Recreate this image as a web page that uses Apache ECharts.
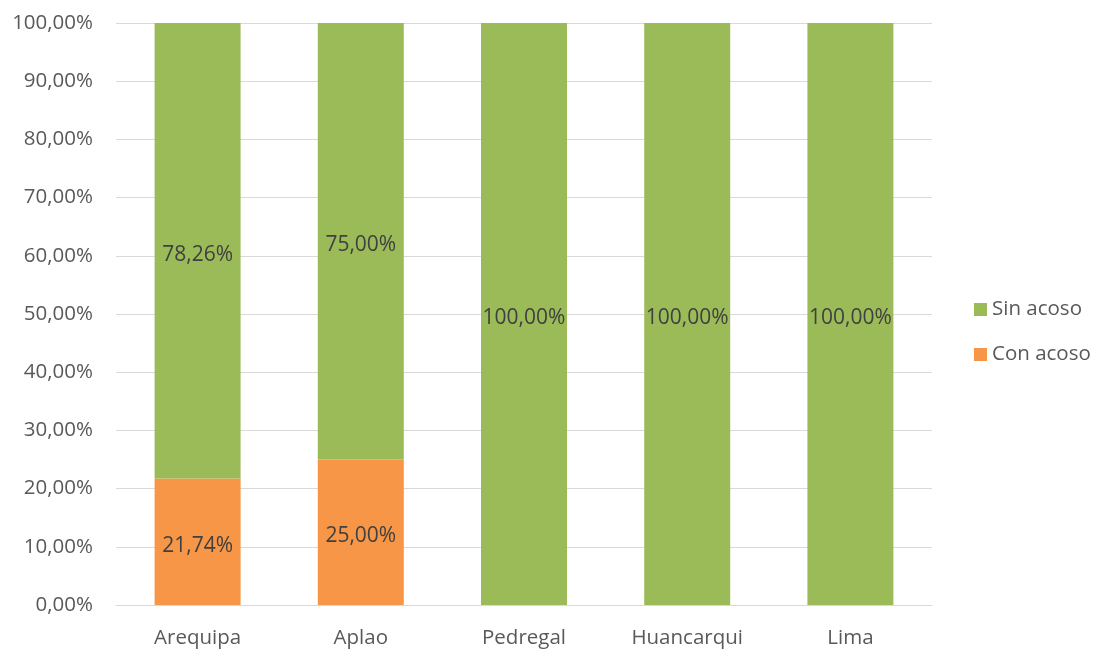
<!DOCTYPE html>
<html>
<head>
<meta charset="utf-8">
<script src="https://cdn.jsdelivr.net/npm/echarts@6/dist/echarts.min.js"></script>
<style>html,body{margin:0;padding:0;background:#fff}#c{width:1099px;height:651px}</style>
</head>
<body>
<div id="c"></div>
<script>
const categories = ['Arequipa', 'Aplao', 'Pedregal', 'Huancarqui', 'Lima'];
const conAcoso = [21.74, 25.00, 0, 0, 0];
const sinAcoso = [78.26, 75.00, 100, 100, 100];
const seriesNames = ['Sin acoso', 'Con acoso'];

const fmt = v => v.toFixed(2).replace('.', ',') + '%';
const font = '"Open Sans", "Liberation Sans", sans-serif';

const chart = echarts.init(document.getElementById('c'));
chart.setOption({
  animation: false,
  textStyle: { fontFamily: font },
  grid: { left: 116, right: 167, top: 23, bottom: 46, containLabel: false },
  legend: {
    orient: 'vertical',
    left: 974, top: 299, padding: 0,
    itemWidth: 13, itemHeight: 13, itemGap: 24,
    data: seriesNames,
    textStyle: { fontFamily: font, fontSize: 20.5, color: '#595959' },
    icon: 'rect'
  },
  xAxis: {
    type: 'category',
    data: categories,
    axisLine: { show: true, lineStyle: { color: '#d9d9d9', width: 1 } },
    axisTick: { show: false },
    axisLabel: { fontFamily: font, fontSize: 20.5, color: '#595959', margin: 23 }
  },
  yAxis: {
    type: 'value',
    min: 0, max: 100, interval: 10,
    axisLine: { show: false },
    axisTick: { show: false },
    splitLine: { lineStyle: { color: '#d9d9d9', width: 1 } },
    axisLabel: { fontFamily: font, fontSize: 20.5, color: '#595959', margin: 23, formatter: v => fmt(v) }
  },
  series: [
    {
      name: 'Con acoso', type: 'bar', stack: 'a', barWidth: 86,
      data: conAcoso,
      itemStyle: { color: '#F79646' },
      label: { show: true, position: 'inside', offset: [0, 4], fontFamily: font, fontSize: 21, color: '#404040',
        formatter: p => p.value > 0 ? fmt(p.value) : '' }
    },
    {
      name: 'Sin acoso', type: 'bar', stack: 'a', barWidth: 86,
      data: sinAcoso,
      itemStyle: { color: '#9BBB59' },
      label: { show: true, position: 'inside', offset: [0, 4], fontFamily: font, fontSize: 21, color: '#404040',
        formatter: p => p.value > 0 ? fmt(p.value) : '' }
    }
  ]
});
</script>
</body>
</html>
